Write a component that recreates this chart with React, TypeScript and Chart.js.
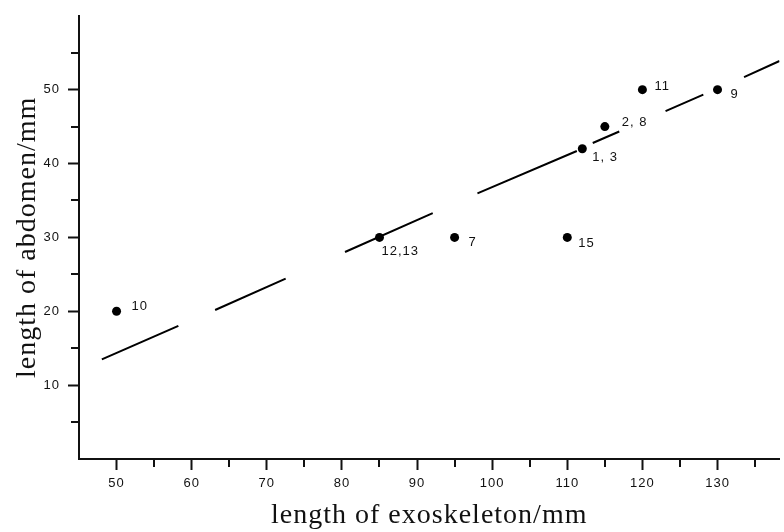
import React, { useEffect, useRef } from 'react';
import { Chart, registerables } from 'chart.js';

Chart.register(...registerables);

// Observed specimens
const pointX = [50, 85, 95, 110, 112, 115, 120, 130];
const pointY = [20, 30, 30, 30, 42, 45, 50, 50];
const pointLabels = ['10', '12,13', '7', '15', '1, 3', '2, 8', '11', '9'];

// Dashed fitted line: dash end points (null = gap)
const fitX = [48.04, 58.23, null, 63.12, 72.51, null, 80.41, 92.09, null, 98.04, 111.27, null, 113.39, 116.92, null, 123.08, 128.11, null, 133.53, 138.25];
const fitY = [13.48, 18.03, null, 20.17, 24.41, null, 28.02, 33.28, null, 35.95, 41.7, null, 42.78, 44.34, null, 47.1, 49.33, null, 51.7, 53.88];

// Axis ticks
const xTicks = [50, 55, 60, 65, 70, 75, 80, 85, 90, 95, 100, 105, 110, 115, 120, 125, 130, 135];
const yTicks = [5, 10, 15, 20, 25, 30, 35, 40, 45, 50, 55];

// label placement (pixel offsets from each point)
const labelDX = [15, 2, 14, 11, 10, 17, 12, 13];
const labelDY = [-4.5, 14, 5, 6, 9, -4, -3, 5];

const SANS = "'Liberation Sans', Arial, sans-serif";
const SERIF = "'Liberation Serif', 'Times New Roman', serif";

const spacingPlugin = {
  id: 'letterSpacing',
  beforeDraw(chart: any) {
    try { (chart.ctx as any).letterSpacing = '1px'; } catch (e) {}
  },
};

const labelsPlugin = {
  id: 'pointLabels',
  afterDatasetsDraw(chart: any) {
    const meta = chart.getDatasetMeta(0);
    const ctx = chart.ctx;
    ctx.save();
    ctx.fillStyle = '#111';
    ctx.font = `13px ${SANS}`;
    ctx.textAlign = 'left';
    ctx.textBaseline = 'middle';
    try { (ctx as any).letterSpacing = '1px'; } catch (e) {}
    meta.data.forEach((el: any, i: number) => {
      ctx.fillText(pointLabels[i], el.x + labelDX[i], el.y + labelDY[i]);
    });
    ctx.restore();
  },
};

const minorTicksPlugin = {
  id: 'minorTicks',
  afterDraw(chart: any) {
    const ctx = chart.ctx;
    const xs = chart.scales.x;
    const ys = chart.scales.y;
    ctx.save();
    ctx.strokeStyle = '#111';
    ctx.lineWidth = 2;
    ctx.beginPath();
    xTicks.filter((v) => v % 10 !== 0).forEach((v) => {
      const px = Math.round(xs.getPixelForValue(v));
      ctx.moveTo(px, xs.top);
      ctx.lineTo(px, xs.top + 8);
    });
    yTicks.filter((v) => v % 10 !== 0).forEach((v) => {
      const py = Math.round(ys.getPixelForValue(v));
      ctx.moveTo(ys.right, py);
      ctx.lineTo(ys.right - 8, py);
    });
    ctx.stroke();
    ctx.restore();
  },
};

export default function App() {
  const canvasRef = useRef<HTMLCanvasElement | null>(null);

  useEffect(() => {
    if (!canvasRef.current) return;
    const points = pointX.map((x, i) => ({ x, y: pointY[i] }));
    const fit = fitX.map((x, i) => ({ x, y: fitY[i] }));
    const majorColor = (c: any) => (c.tick && c.tick.value % 10 === 0 ? '#111' : 'rgba(0,0,0,0)');

    const chart = new Chart(canvasRef.current, {
      type: 'scatter',
      data: {
        datasets: [
          {
            data: points as any,
            backgroundColor: '#000',
            borderColor: '#000',
            pointRadius: 4.5,
            pointBorderWidth: 0,
            pointHoverRadius: 4.5,
          },
          {
            data: fit as any,
            showLine: true,
            spanGaps: false,
            borderColor: '#000',
            borderWidth: 2,
            pointRadius: 0,
            pointHoverRadius: 0,
          },
        ],
      },
      options: {
        animation: false,
        responsive: true,
        maintainAspectRatio: false,
        layout: { padding: { top: 10, right: 0, left: 0, bottom: 0 } },
        plugins: { legend: { display: false }, tooltip: { enabled: false } },
        scales: {
          x: {
            type: 'linear',
            min: 45,
            max: 138.25,
            afterBuildTicks: (s: any) => { s.ticks = xTicks.map((v) => ({ value: v })); },
            afterFit: (s: any) => { s.height = 73; },
            grid: { display: true, drawOnChartArea: false, drawTicks: true, tickLength: 11, tickWidth: 2, tickColor: majorColor },
            border: { display: true, color: '#111', width: 2 },
            ticks: {
              autoSkip: false,
              maxRotation: 0,
              padding: 6,
              color: '#111',
              font: { family: SANS, size: 13 },
              callback: (v: any) => (Number(v) % 10 === 0 ? String(v) : ''),
            },
            title: {
              display: true,
              text: 'length of exoskeleton/mm',
              color: '#111',
              font: { family: SERIF, size: 28 },
              padding: { top: 0, bottom: 0 },
            },
          },
          y: {
            type: 'linear',
            min: 0,
            max: 60,
            afterBuildTicks: (s: any) => { s.ticks = yTicks.map((v) => ({ value: v })); },
            afterFit: (s: any) => { s.width = 79; },
            grid: { display: true, drawOnChartArea: false, drawTicks: true, tickLength: 11, tickWidth: 2, tickColor: majorColor },
            border: { display: true, color: '#111', width: 2 },
            ticks: {
              autoSkip: false,
              padding: 8,
              color: '#111',
              font: { family: SANS, size: 13 },
              callback: (v: any) => (Number(v) % 10 === 0 ? String(v) : ''),
            },
            title: {
              display: true,
              text: 'length of abdomen/mm',
              color: '#111',
              font: { family: SERIF, size: 28 },
              padding: { top: 11, bottom: 0 },
            },
          },
        },
      },
      plugins: [spacingPlugin, labelsPlugin, minorTicksPlugin],
    } as any);

    return () => chart.destroy();
  }, []);

  return (
    <div style={{ position: 'absolute', left: 0, top: 0, width: 784, height: 532, background: '#fff' }}>
      <canvas ref={canvasRef} />
    </div>
  );
}
